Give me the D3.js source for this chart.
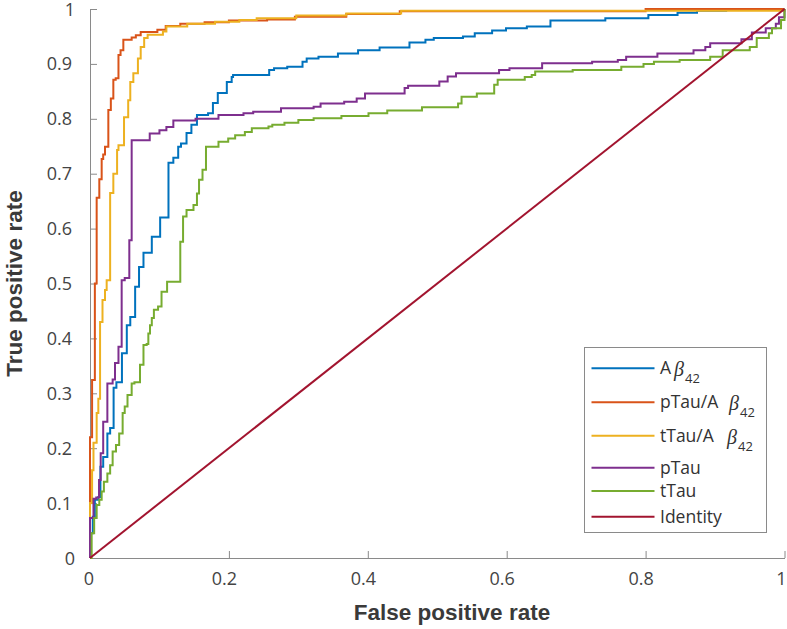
<!DOCTYPE html>
<html>
<head>
<meta charset="utf-8">
<script src="https://cdn.jsdelivr.net/npm/d3@7"></script>
<style>
  html, body { margin: 0; padding: 0; background: #fff; }
  svg { display: block; }
</style>
</head>
<body>
<svg id="chart" width="787" height="629"></svg>
<script>
// ---------------- DATA ----------------
const xTicks = [0, 0.2, 0.4, 0.6, 0.8, 1];
const xTickLabels = ["0", "0.2", "0.4", "0.6", "0.8", "1"];
const yTicks = [0, 0.1, 0.2, 0.3, 0.4, 0.5, 0.6, 0.7, 0.8, 0.9, 1];
const yTickLabels = ["0", "0.1", "0.2", "0.3", "0.4", "0.5", "0.6", "0.7", "0.8", "0.9", "1"];

const xLabel = "False positive rate";
const yLabel = "True positive rate";

// ROC staircases: [false positive rate, true positive rate] (step-after vertices)
const abeta42 = [[0,0],[0,0.045],[0.004,0.075],[0.007,0.106],[0.012,0.111],[0.015,0.166],[0.019,0.184],[0.025,0.227],[0.029,0.237],[0.034,0.31],[0.038,0.32],[0.046,0.373],[0.053,0.424],[0.058,0.439],[0.065,0.494],[0.0706,0.53],[0.077,0.556],[0.089,0.585],[0.101,0.62],[0.113,0.72],[0.12,0.729],[0.127,0.749],[0.131,0.755],[0.139,0.774],[0.146,0.789],[0.154,0.807],[0.17,0.81],[0.177,0.829],[0.184,0.847],[0.197,0.867],[0.204,0.876],[0.206,0.88],[0.258,0.889],[0.265,0.892],[0.284,0.895],[0.306,0.904],[0.312,0.91],[0.329,0.913],[0.357,0.919],[0.386,0.925],[0.417,0.93],[0.46,0.939],[0.483,0.944],[0.495,0.947],[0.537,0.95],[0.554,0.956],[0.579,0.961],[0.599,0.965],[0.629,0.968],[0.663,0.979],[0.742,0.983],[0.804,0.989],[0.846,0.993],[0.874,0.997],[0.916,1],[1,1]];

const ptauAbeta = [[0,0],[0,0.22],[0.003,0.324],[0.007,0.50],[0.0096,0.656],[0.0134,0.69],[0.0168,0.727],[0.019,0.735],[0.0216,0.749],[0.0264,0.816],[0.030,0.837],[0.0336,0.871],[0.037,0.874],[0.041,0.916],[0.044,0.925],[0.048,0.944],[0.06,0.948],[0.066,0.952],[0.073,0.958],[0.097,0.962],[0.109,0.969],[0.13,0.973],[0.165,0.976],[0.2,0.979],[0.255,0.981],[0.295,0.986],[0.369,0.991],[0.446,0.996],[0.8,1],[1,1]];

const ttauAbeta = [[0,0],[0,0.10],[0.003,0.16],[0.005,0.21],[0.0096,0.264],[0.012,0.29],[0.0145,0.43],[0.018,0.47],[0.0216,0.488],[0.024,0.506],[0.029,0.665],[0.0336,0.70],[0.039,0.743],[0.041,0.752],[0.049,0.803],[0.055,0.834],[0.058,0.867],[0.0624,0.883],[0.069,0.91],[0.073,0.931],[0.078,0.947],[0.083,0.953],[0.105,0.959],[0.11,0.968],[0.14,0.973],[0.18,0.977],[0.215,0.98],[0.24,0.983],[0.297,0.988],[0.369,0.992],[0.448,0.997],[1,1]];

const ptau = [[0,0],[0,0.073],[0.005,0.108],[0.009,0.11],[0.013,0.142],[0.0154,0.191],[0.019,0.248],[0.025,0.318],[0.0326,0.325],[0.036,0.355],[0.041,0.385],[0.0456,0.506],[0.05,0.51],[0.0566,0.579],[0.060,0.761],[0.086,0.773],[0.10,0.779],[0.11,0.785],[0.12,0.797],[0.152,0.80],[0.185,0.807],[0.221,0.81],[0.235,0.813],[0.275,0.819],[0.322,0.822],[0.332,0.828],[0.366,0.831],[0.384,0.837],[0.396,0.846],[0.453,0.856],[0.458,0.860],[0.503,0.868],[0.515,0.877],[0.527,0.883],[0.589,0.889],[0.604,0.892],[0.651,0.901],[0.723,0.904],[0.760,0.907],[0.772,0.913],[0.817,0.919],[0.869,0.925],[0.886,0.931],[0.893,0.9375],[0.938,0.945],[0.953,0.957],[0.973,0.965],[0.9875,0.973],[0.992,0.985],[1,1]];

const ttau = [[0,0],[0.0024,0.045],[0.006,0.073],[0.0096,0.0965],[0.0134,0.106],[0.0168,0.121],[0.02,0.139],[0.025,0.154],[0.029,0.169],[0.0326,0.194],[0.0374,0.206],[0.042,0.227],[0.047,0.264],[0.05,0.276],[0.054,0.297],[0.06,0.318],[0.064,0.32],[0.072,0.352],[0.077,0.388],[0.0816,0.39],[0.084,0.409],[0.0864,0.424],[0.089,0.437],[0.092,0.452],[0.098,0.458],[0.103,0.485],[0.111,0.503],[0.13,0.576],[0.134,0.622],[0.139,0.634],[0.149,0.643],[0.154,0.664],[0.157,0.689],[0.162,0.707],[0.167,0.749],[0.185,0.758],[0.199,0.764],[0.209,0.770],[0.223,0.776],[0.233,0.783],[0.257,0.786],[0.2625,0.789],[0.28,0.793],[0.30,0.798],[0.322,0.801],[0.362,0.805],[0.401,0.81],[0.428,0.815],[0.478,0.821],[0.53,0.828],[0.535,0.84],[0.557,0.846],[0.582,0.862],[0.587,0.871],[0.626,0.876],[0.636,0.88],[0.641,0.886],[0.695,0.889],[0.765,0.895],[0.797,0.90],[0.812,0.904],[0.849,0.907],[0.893,0.913],[0.911,0.925],[0.95,0.931],[0.96,0.947],[0.9775,0.956],[0.982,0.965],[0.995,0.98],[1,1]];

const identity = [[0,0],[1,1]];

const seriesNames = ["Aβ42", "pTau/Aβ42", "tTau/Aβ42", "pTau", "tTau", "Identity"];
// legend text pieces: [plain text, greek symbol, subscript]
const legendParts = [["A", "β", "42"], ["pTau/A", "β", "42"], ["tTau/A", "β", "42"], ["pTau", "", ""], ["tTau", "", ""], ["Identity", "", ""]];
const seriesColors = ["#0072BD", "#D95319", "#EDB120", "#7E2F8E", "#77AC30", "#A2142F"];
const seriesData = [abeta42, ptauAbeta, ttauAbeta, ptau, ttau, identity];

// ---------------- CHART ----------------
const svg = d3.select("#chart");
const x = d3.scaleLinear().domain([0, 1]).range([90, 784.5]);
const y = d3.scaleLinear().domain([0, 1]).range([558, 9]);

const axisColor = "#8a8a8a";
const labelColor = "#444";
const tickFont = "'Open Sans', 'Noto Sans', sans-serif";

// x axis
const gx = svg.append("g").attr("transform", `translate(0,${y(0)})`)
  .call(d3.axisBottom(x).tickValues(xTicks).tickSize(-7).tickSizeOuter(0).tickFormat(""));
gx.select(".domain").attr("stroke", axisColor).attr("stroke-width", 1);
gx.selectAll(".tick line").attr("stroke", axisColor);

svg.append("g").selectAll("text").data(xTicks).join("text")
  .attr("x", (d, i) => x(d) + (xTickLabels[i].length > 1 ? -4.5 : (d === 1 ? -3 : -1)))
  .attr("y", 585)
  .attr("text-anchor", "middle")
  .attr("font-family", tickFont).attr("font-size", 18).attr("fill", labelColor)
  .text((d, i) => xTickLabels[i]);

// y axis
const gy = svg.append("g").attr("transform", `translate(${x(0)},0)`)
  .call(d3.axisLeft(y).tickValues(yTicks).tickSize(-7).tickSizeOuter(0).tickFormat(""));
gy.select(".domain").attr("stroke", axisColor).attr("stroke-width", 1);
gy.selectAll(".tick line").attr("stroke", axisColor);

svg.append("g").selectAll("text").data(yTicks).join("text")
  .attr("x", (d, i) => 72 + (yTickLabels[i].length > 1 ? 0 : 3))
  .attr("y", d => y(d) + 6.5 + (d === 1 ? 0.5 : 0))
  .attr("text-anchor", "end")
  .attr("font-family", tickFont).attr("font-size", 18).attr("fill", labelColor)
  .text((d, i) => yTickLabels[i]);

// axis titles
svg.append("text")
  .attr("x", 452).attr("y", 620)
  .attr("text-anchor", "middle")
  .attr("font-family", "'Liberation Sans', Arial, sans-serif")
  .attr("font-weight", "bold").attr("font-size", 22.5).attr("fill", "#3a3a3a")
  .text(xLabel);

svg.append("text")
  .attr("transform", `translate(21.5,${(y(0) + y(1)) / 2}) rotate(-90)`)
  .attr("text-anchor", "middle")
  .attr("font-family", "'Liberation Sans', Arial, sans-serif")
  .attr("font-weight", "bold").attr("font-size", 22.5).attr("fill", "#3a3a3a")
  .text(yLabel);

// curves
const stepLine = d3.line().x(d => x(d[0])).y(d => y(d[1])).curve(d3.curveStepAfter);
const straightLine = d3.line().x(d => x(d[0])).y(d => y(d[1]));

svg.append("g").selectAll("path").data(seriesData).join("path")
  .attr("d", (d, i) => i === seriesData.length - 1 ? straightLine(d) : stepLine(d))
  .attr("fill", "none")
  .attr("stroke", (d, i) => seriesColors[i])
  .attr("stroke-width", 2)
  .attr("stroke-linejoin", "miter");

// legend
const legend = svg.append("g");
legend.append("rect")
  .attr("x", 584.5).attr("y", 347.5).attr("width", 182).attr("height", 185)
  .attr("fill", "#fff").attr("stroke", axisColor).attr("stroke-width", 1);

const rowY = [368.3, 402.3, 435.7, 467.7, 491, 516.7];
const plainWidth = [12, 54, 52, 0, 0, 0];
const rows = legend.selectAll("g.row").data(seriesNames).join("g").attr("class", "row");
rows.append("line")
  .attr("x1", 591.5).attr("x2", 654.5)
  .attr("y1", (d, i) => rowY[i]).attr("y2", (d, i) => rowY[i])
  .attr("stroke", (d, i) => seriesColors[i]).attr("stroke-width", 2);

rows.each(function (d, i) {
  const parts = legendParts[i];
  const g = d3.select(this);
  const base = rowY[i] + 6;
  g.append("text")
    .attr("x", 660).attr("y", base)
    .attr("font-family", tickFont).attr("font-size", 17.5).attr("fill", "#333")
    .text(parts[0]);
  if (parts[1]) {
    const gap = i === 0 ? 2 : 15;
    const bx = 660 + plainWidth[i] + gap;
    g.append("text")
      .attr("x", bx).attr("y", base + 2)
      .attr("font-family", "'Liberation Serif', 'DejaVu Serif', serif")
      .attr("font-style", "italic").attr("font-size", 20).attr("fill", "#333")
      .text(parts[1]);
    g.append("text")
      .attr("x", bx + 11).attr("y", base + 9)
      .attr("font-family", tickFont).attr("font-size", 13).attr("fill", "#333")
      .text(parts[2]);
  }
});
</script>
</body>
</html>
